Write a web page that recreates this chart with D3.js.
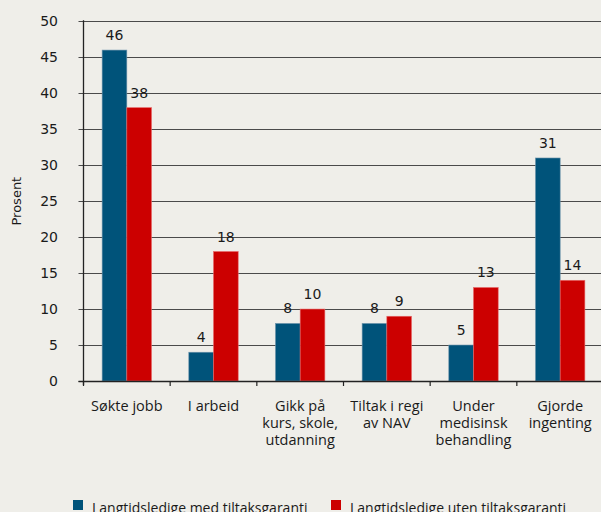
<!DOCTYPE html>
<html lang="no">
<head>
<meta charset="UTF-8">
<title>Prosent</title>
<script src="https://cdn.jsdelivr.net/npm/d3@7"></script>
<style>
    body { margin: 0; background: #efeee9; }
    svg { display: block; }
    .grid line { stroke: #4a4a4a; stroke-width: 1; }
    .axis text { font-family: "DejaVu Sans", sans-serif; font-size: 14px; fill: #1a1a1a; }
    .cat text { font-family: "Open Sans", sans-serif; font-size: 14.5px; fill: #1a1a1a; }
    .val { font-family: "DejaVu Sans", sans-serif; font-size: 14px; fill: #1a1a1a; }
    .legend text { font-family: "Open Sans", sans-serif; font-size: 14px; fill: #1a1a1a; }
</style>
</head>
<body>
<svg width="601" height="512"></svg>
<script>
    var categories = [
        ["Søkte jobb"],
        ["I arbeid"],
        ["Gikk på", "kurs, skole,", "utdanning"],
        ["Tiltak i regi", "av NAV"],
        ["Under", "medisinsk", "behandling"],
        ["Gjorde", "ingenting"]
    ];
    var medGaranti = [46, 4, 8, 8, 5, 31];
    var utenGaranti = [38, 18, 10, 9, 13, 14];
    var seriesNames = ["Langtidsledige med tiltaksgaranti", "Langtidsledige uten tiltaksgaranti"];
    var seriesColors = ["#00537a", "#cc0000"];
    var yTicks = [0, 5, 10, 15, 20, 25, 30, 35, 40, 45, 50];

    var svg = d3.select("svg");
    var plotLeft = 83.5, plotRight = 603.5, plotTop = 21.3, plotBottom = 381;

    var x = d3.scaleBand().domain(d3.range(categories.length)).range([plotLeft, plotRight]);
    var inner = d3.scaleBand().domain([0, 1]).range([0, 49.4]);
    var y = d3.scaleLinear().domain([0, 50]).range([plotBottom, plotTop]);

    // gridlines + y ticks
    svg.append("g").attr("class", "grid")
        .selectAll("line").data(yTicks).enter().append("line")
        .attr("x1", plotLeft - 5).attr("x2", 601)
        .attr("y1", function(d) { return Math.round(y(d)) + 0.5; })
        .attr("y2", function(d) { return Math.round(y(d)) + 0.5; });

    svg.append("g").attr("class", "axis")
        .selectAll("text").data(yTicks).enter().append("text")
        .attr("x", 58).attr("y", function(d) { return y(d); })
        .attr("dy", "0.36em").attr("text-anchor", "end")
        .text(function(d) { return d; });

    svg.append("text")
        .attr("transform", "translate(21," + ((plotTop + plotBottom) / 2) + ") rotate(-90)")
        .attr("text-anchor", "middle")
        .style("font-family", "DejaVu Sans, sans-serif").style("font-size", "13px").style("fill", "#1a1a1a")
        .text("Prosent");

    // bars
    var series = [medGaranti, utenGaranti];
    series.forEach(function(vals, s) {
        var g = svg.append("g");
        g.selectAll("rect").data(vals).enter().append("rect")
            .attr("x", function(d, i) { return x(i) + x.bandwidth() / 2 - 24.7 + inner(s); })
            .attr("y", function(d) { return y(d); })
            .attr("width", inner.bandwidth())
            .attr("height", function(d) { return plotBottom - y(d); })
            .attr("fill", seriesColors[s])
            .attr("stroke", s === 0 ? "#6d93ab" : "#e86a6a")
            .attr("stroke-width", 0.6);
        g.selectAll("text").data(vals).enter().append("text")
            .attr("class", "val")
            .attr("x", function(d, i) { return x(i) + x.bandwidth() / 2 - 24.7 + inner(s) + inner.bandwidth() / 2; })
            .attr("y", function(d) { return y(d) - 10; })
            .attr("text-anchor", "middle")
            .text(function(d) { return d; });
    });

    // axis lines and category ticks
    svg.append("line").attr("x1", plotLeft).attr("x2", plotLeft)
        .attr("y1", plotTop - 1).attr("y2", plotBottom + 4)
        .attr("stroke", "#222").attr("stroke-width", 1.3);
    svg.append("line").attr("x1", plotLeft - 5).attr("x2", 601)
        .attr("y1", plotBottom + 0.5).attr("y2", plotBottom + 0.5)
        .attr("stroke", "#222").attr("stroke-width", 1.3);
    svg.append("g").selectAll("line").data(d3.range(categories.length)).enter().append("line")
        .attr("x1", function(i) { return x(i); }).attr("x2", function(i) { return x(i); })
        .attr("y1", plotBottom).attr("y2", plotBottom + 5)
        .attr("stroke", "#222").attr("stroke-width", 1.2);

    var cat = svg.append("g").attr("class", "cat");
    categories.forEach(function(lines, i) {
        var t = cat.append("text")
            .attr("x", x(i) + x.bandwidth() / 2)
            .attr("y", 411)
            .attr("text-anchor", "middle");
        lines.forEach(function(l, j) {
            t.append("tspan").attr("x", x(i) + x.bandwidth() / 2)
                .attr("dy", j === 0 ? 0 : 17).text(l);
        });
    });

    // legend
    var legX = [73, 331];
    var leg = svg.append("g").attr("class", "legend");
    seriesNames.forEach(function(n, s) {
        leg.append("rect").attr("x", legX[s]).attr("y", 500)
            .attr("width", 10).attr("height", 10).attr("fill", seriesColors[s]);
        leg.append("text").attr("x", legX[s] + 19).attr("y", 513).text(n);
    });
</script>
</body>
</html>
